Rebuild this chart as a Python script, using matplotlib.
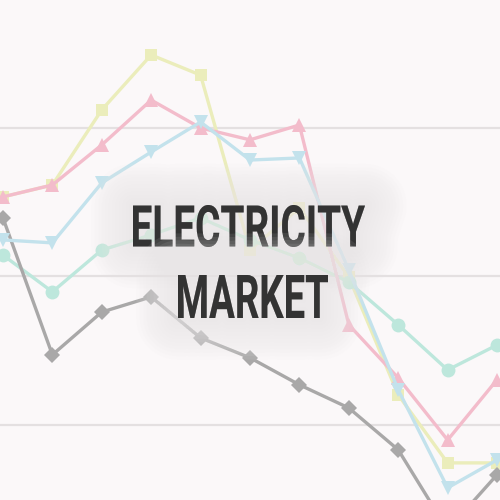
import numpy as np
import matplotlib
matplotlib.use("Agg")
import matplotlib.pyplot as plt
import matplotlib.patheffects as pe
from matplotlib.textpath import TextPath
from matplotlib.patches import PathPatch
from matplotlib.font_manager import FontProperties
from matplotlib.transforms import Affine2D

# points along the x axis (11 periods)
periods = list(range(11))

yellow = [76.8, 80.8, 106.1, 124.6, 117.8, 58.9, 73.1, 49.8, 10.1, -12.8, -12.8]
pink = [76.8, 80.8, 94.3, 109.4, 100.0, 96.0, 101.0, 33.7, 15.8, -5.1, 15.2]
blue = [62.3, 61.3, 81.5, 91.9, 102.0, 89.2, 89.9, 52.2, 11.8, -21.2, -11.8]
teal = [57.2, 44.8, 58.9, 64.0, 69.7, 62.3, 56.2, 48.1, 33.7, 18.5, 26.9]
gray = [69.7, 23.6, 38.0, 43.1, 29.3, 22.6, 13.5, 5.7, -8.4, -35.4, -16.8]

grid_vals = [0, 50, 100]
title_lines = ["ELECTRICITY", "MARKET"]

bg = '#fbf8f9'

fig = plt.figure(figsize=(5, 5), dpi=100)
fig.patch.set_facecolor(bg)
ax = fig.add_axes([0, 0, 1, 1])
ax.set_facecolor(bg)

for g in grid_vals:
    ax.axhline(g, color='#e4e0e1', lw=1.6, zorder=1)

series = [
    (yellow, '#ebedbb', 's', 9),
    (teal, '#bde7dc', 'o', 10),
    (gray, '#a9a8a8', 'D', 8),
    (pink, '#f3bccb', '^', 10),
    (blue, '#c3e2ec', 'v', 10),
]
for vals, col, mk, ms in series:
    ax.plot(periods, vals, color=col, lw=2.4, marker=mk, ms=ms,
            markeredgewidth=0, zorder=2)

ax.set_xlim(-0.06, 10.06)
ax.set_ylim(-25.3, 143.1)
ax.axis('off')

# overlay for the title, in pixel coordinates (y downwards)
ov = fig.add_axes([0, 0, 1, 1])
ov.set_xlim(0, 500)
ov.set_ylim(500, 0)
ov.axis('off')

fp = FontProperties(family='Roboto', weight='bold')
boxes = [(133, 365, 205, 247), (178, 328, 275, 318)]

glow = []
for w in range(60, 2, -5):
    glow.append(pe.Stroke(linewidth=w, foreground='#e9e6e7', alpha=0.09,
                          joinstyle='round', capstyle='round'))
glow.append(pe.Normal())

for txt, (x0, x1, y0, y1) in zip(title_lines, boxes):
    tp = TextPath((0, 0), txt, size=100, prop=fp)
    ext = tp.get_extents()
    sx = (x1 - x0) / ext.width
    sy = (y1 - y0) / ext.height
    tr = Affine2D().translate(-ext.x0, -ext.y0).scale(sx, -sy).translate(x0, y1)
    path = tr.transform_path(tp)
    patch = PathPatch(path, facecolor='#333333', edgecolor='none',
                      path_effects=glow)
    ov.add_patch(patch)

fig.savefig('out.png', dpi=100, facecolor=bg)
